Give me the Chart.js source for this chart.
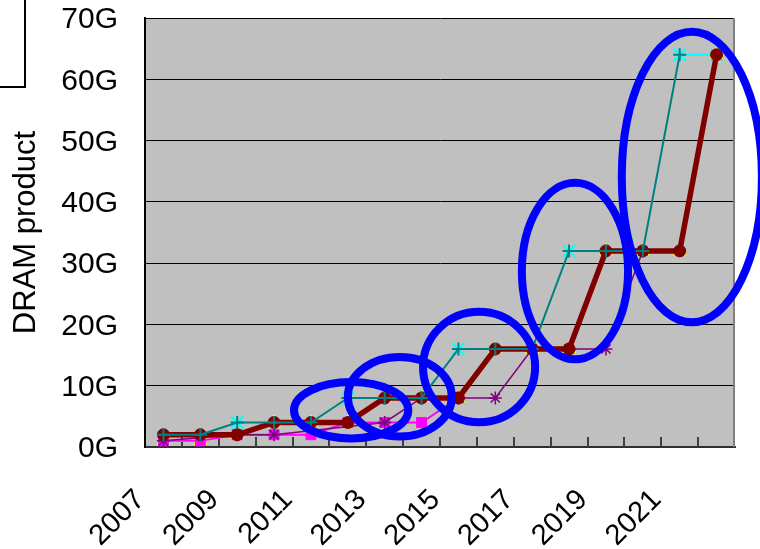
<!DOCTYPE html>
<html>
<head>
<meta charset="utf-8">
<script src="https://cdn.jsdelivr.net/npm/chart.js@4.4.1/dist/chart.umd.min.js"></script>
<style>
  html, body { margin: 0; padding: 0; background: #ffffff; }
  canvas { display: block; }
</style>
</head>
<body>
<canvas id="dram" width="760" height="549"></canvas>
<script>
// Years on the category axis (every other one is labelled)
const years = ['2007','2008','2009','2010','2011','2012','2013','2014',
               '2015','2016','2017','2018','2019','2020','2021','2022'];

// DRAM product density per year, in Gbit
const leadPlan    = [2, 2, 4, 4, 4, 8, 8, 8, 16, 16, 16, 32, 32, 32, 64, null];
const leadIntro   = [null, null, 4, null, null, 8, null, null, 16, null, null, 32, null, null, 64, 64];
const mainPlan    = [2, 2, 2, 4, 4, 4, 8, 8, 8, 16, 16, 16, 32, 32, 32, 64];
const mainVolume  = [1, 1, 2, 4, 4, 4, 8, 8, 8, 16, 16, 16, 32, 32, 32, 64];
const lagPlan     = [1, null, 2, 2, null, null, 4, 8, 8, 8, 16, 16, 16, 32, null, null];
const mobilePlan  = [1, 1, 2, 2, 2, 4, 4, 4, 8, null, null, null, null, null, null, null];

// Y axis range and tick step, in Gbit
const yMin = 0;
const yMax = 70;
const yStep = 10;

// Highlight rings: centre (year index, Gbit) and half-extent (years, Gbit)
const ringYear   = [5.09, 6.41, 8.56, 11.16, 14.33];
const ringValue  = [6.0, 8.2, 13.05, 28.7, 44.05];
const ringHalfX  = [1.55, 1.41, 1.52, 1.44, 1.90];
const ringHalfY  = [4.6, 6.5, 9.0, 14.4, 23.7];

const fontFamily = "'Liberation Sans', Arial, sans-serif";

const decor = {
  id: 'decor',
  beforeDraw(chart) {
    const { ctx, chartArea: a } = chart;
    ctx.save();
    ctx.fillStyle = '#ffffff';
    ctx.fillRect(0, 0, chart.width, chart.height);
    ctx.fillStyle = '#c0c0c0';
    ctx.fillRect(a.left, a.top, a.right - a.left, a.bottom - a.top);
    ctx.restore();
  },
  beforeDatasetsDraw(chart) {
    const { ctx, chartArea: a, scales: { x } } = chart;
    ctx.save();
    // inward tick marks at category boundaries
    ctx.strokeStyle = '#404040';
    ctx.lineWidth = 2;
    for (let i = 1; i < years.length; i++) {
      const px = Math.round(x.getPixelForValue(i - 0.5));
      ctx.beginPath();
      ctx.moveTo(px, a.bottom);
      ctx.lineTo(px, a.bottom - 10);
      ctx.stroke();
    }
    // right frame edge
    ctx.strokeStyle = '#808080';
    ctx.lineWidth = 2;
    ctx.beginPath();
    ctx.moveTo(a.right - 1, a.top);
    ctx.lineTo(a.right - 1, a.bottom);
    ctx.stroke();
    ctx.restore();
  },
  afterDraw(chart) {
    const { ctx, scales: { x, y } } = chart;
    ctx.save();
    // blue highlight rings
    ctx.strokeStyle = '#0000ff';
    ctx.lineWidth = 8;
    for (let i = 0; i < ringYear.length; i++) {
      const cx = x.getPixelForValue(ringYear[i]);
      const cy = y.getPixelForValue(ringValue[i]);
      const rx = Math.abs(x.getPixelForValue(ringYear[i] + ringHalfX[i]) - cx);
      const ry = Math.abs(y.getPixelForValue(ringValue[i] + ringHalfY[i]) - cy);
      ctx.beginPath();
      ctx.ellipse(cx, cy, rx, ry, 0, 0, Math.PI * 2);
      ctx.stroke();
    }
    // legend frame at the top-left corner
    ctx.strokeStyle = '#000000';
    ctx.lineWidth = 2;
    ctx.strokeRect(-10, -10, 35, 97);
    ctx.restore();
  }
};

new Chart(document.getElementById('dram'), {
  type: 'line',
  data: {
    labels: years,
    datasets: [
      {
        label: 'Lead', data: leadPlan, order: 0,
        borderColor: '#008080', backgroundColor: '#008080', borderWidth: 2,
        pointStyle: 'cross', pointRadius: 6.5, pointBorderWidth: 2,
        pointBorderColor: '#008080', tension: 0, spanGaps: false
      },
      {
        label: 'Main', data: mainPlan, order: 1,
        borderColor: '#800000', backgroundColor: '#800000', borderWidth: 5.5,
        pointStyle: 'circle', pointRadius: 6, pointBorderWidth: 1,
        pointBorderColor: '#800000', pointBackgroundColor: '#800000', tension: 0
      },
      {
        label: 'Intro', data: leadIntro, order: 2,
        borderColor: '#00ffff', backgroundColor: '#00ffff', borderWidth: 2,
        pointStyle: 'crossRot', pointRadius: 8.5, pointBorderWidth: 2,
        pointBorderColor: '#00ffff', tension: 0, spanGaps: false
      },
      {
        label: 'Lag', data: lagPlan, order: 3,
        borderColor: '#800080', backgroundColor: '#800080', borderWidth: 1.5,
        pointStyle: 'star', pointRadius: 6.5, pointBorderWidth: 1.5,
        pointBorderColor: '#800080', tension: 0, spanGaps: true
      },
      {
        label: 'Mobile', data: mobilePlan, order: 4,
        borderColor: '#ff00ff', backgroundColor: '#ff00ff', borderWidth: 2,
        pointStyle: 'rect', pointRadius: 7, pointBorderWidth: 1,
        pointBorderColor: '#ff00ff', pointBackgroundColor: '#ff00ff', tension: 0, spanGaps: false
      },
      {
        label: 'Volume', data: mainVolume, order: 5,
        borderColor: '#ffff00', backgroundColor: '#ffff00', borderWidth: 2,
        pointStyle: 'triangle', pointRadius: 7.5, pointBorderWidth: 1,
        pointBorderColor: '#ffff00', pointBackgroundColor: '#ffff00', tension: 0
      }
    ]
  },
  options: {
    responsive: false,
    animation: false,
    devicePixelRatio: 1,
    layout: { padding: { top: 18, right: 25, left: 0, bottom: 0 } },
    plugins: { legend: { display: false }, tooltip: { enabled: false } },
    scales: {
      x: {
        offset: true,
        grid: { display: false, drawTicks: true, tickLength: 36 },
        border: { display: true, color: '#303030', width: 2 },
        ticks: {
          autoSkip: false, minRotation: 45, maxRotation: 45,
          labelOffset: -23, padding: 0,
          color: '#000000', font: { family: fontFamily, size: 29 },
          callback: (v, i) => (i % 2 === 0 ? years[i] : '')
        },
        afterFit(scale) { scale.height = 102; }
      },
      y: {
        min: yMin, max: yMax,
        grid: { color: '#000000', lineWidth: 1, drawTicks: true, tickLength: 27, tickColor: 'rgba(0,0,0,0)' },
        border: { display: true, color: '#000000', width: 2 },
        ticks: {
          stepSize: yStep, padding: 0, labelOffset: 2,
          color: '#000000', font: { family: fontFamily, size: 30 },
          callback: (v) => v + 'G'
        },
        title: {
          display: true, text: 'DRAM product', color: '#000000',
          font: { family: fontFamily, size: 31 },
          padding: { top: 8, bottom: 0 }
        },
        afterFit(scale) { scale.width = 145; }
      }
    }
  },
  plugins: [decor]
});
</script>
</body>
</html>
